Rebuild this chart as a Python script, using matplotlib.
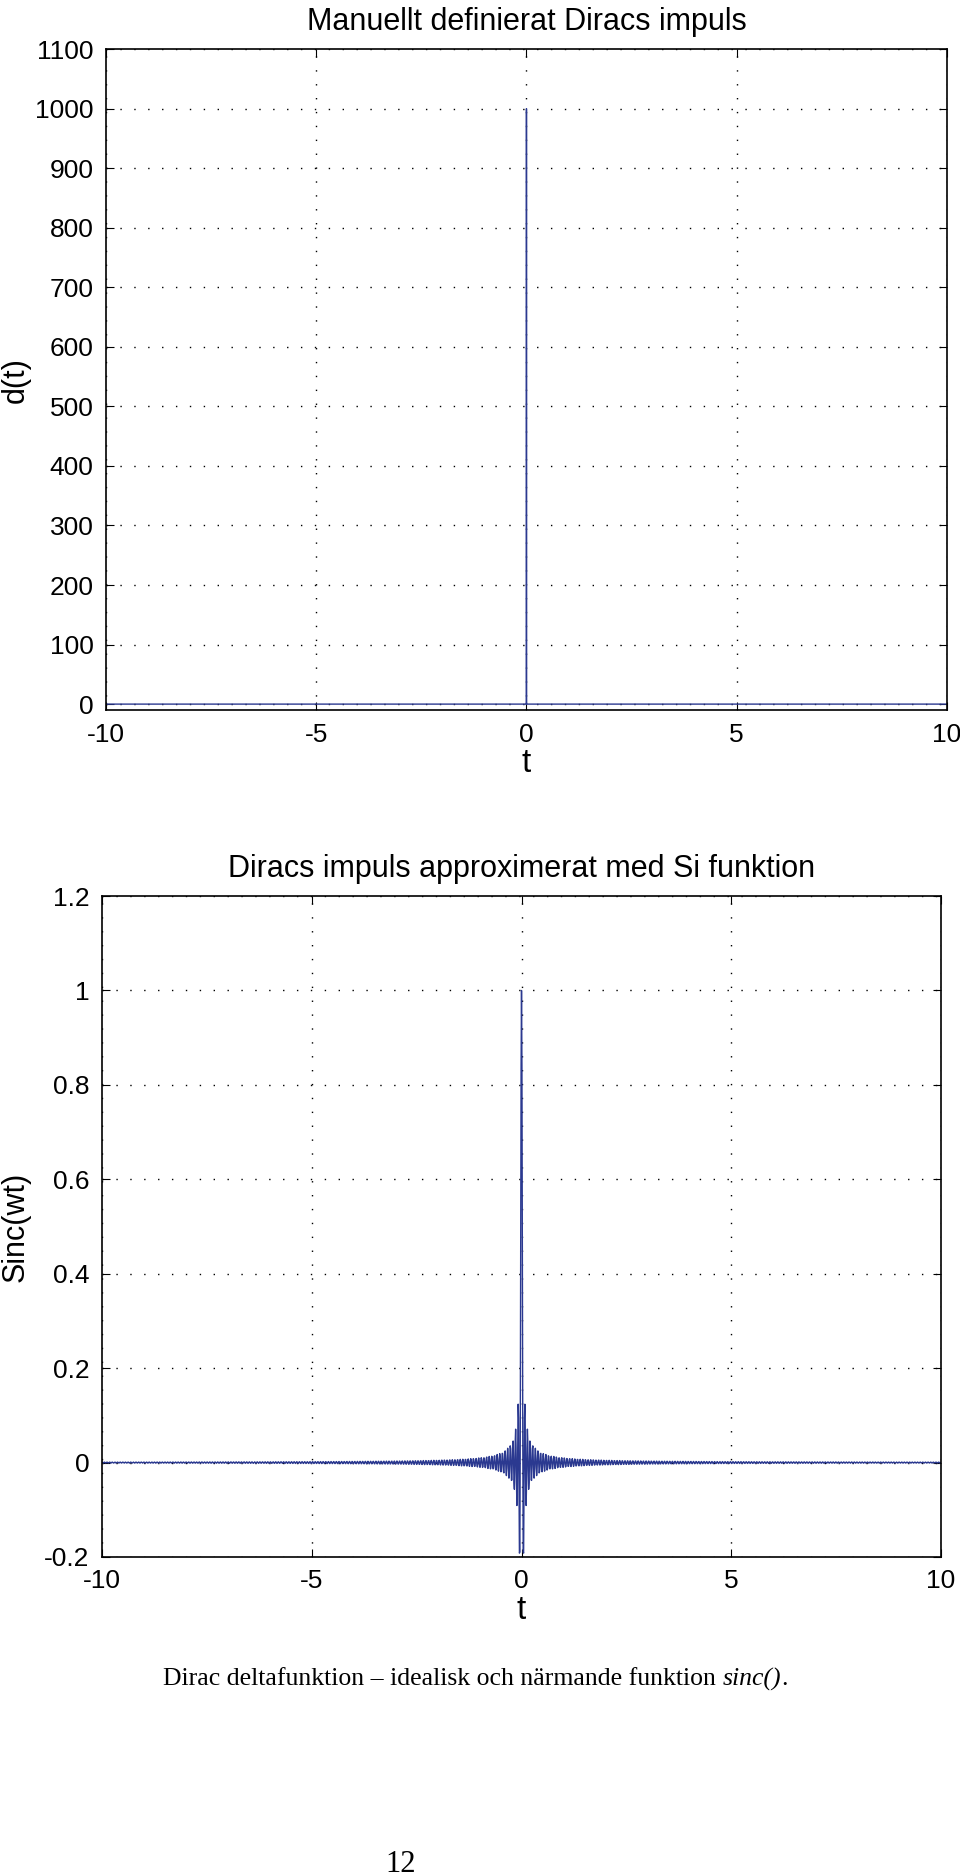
import numpy as np
import matplotlib.pyplot as plt
from matplotlib.ticker import FixedLocator

# top: manually defined Dirac impulse (dt = 0.001 -> height 1000)
dirac_t = [-10, -0.001, 0, 0.001, 10]
dirac_d = [0, 0, 1000, 0, 0]

# bottom: sinc approximation, sin(w t)/(w t) sampled every 0.01
omega = 100
t_step = 0.01
t_sinc = np.arange(-1000, 1001) * t_step
sinc_y = np.sinc(omega * t_sinc / np.pi)

x_ticks = [-10, -5, 0, 5, 10]
y_ticks_top = list(range(0, 1101, 100))
y_ticks_bot = [-0.2, 0, 0.2, 0.4, 0.6, 0.8, 1, 1.2]
y_labels_bot = ['-0.2', '0', '0.2', '0.4', '0.6', '0.8', '1', '1.2']

sans = ['Liberation Sans', 'DejaVu Sans']
serif = ['Liberation Serif', 'DejaVu Serif']
line_col = '#2b3990'

plt.rcParams['font.family'] = sans

fig = plt.figure(figsize=(9.6, 18.75), dpi=100)
ax1 = fig.add_axes([0.1104, 0.6213, 0.876, 0.3525])
ax2 = fig.add_axes([0.10625, 0.1696, 0.874, 0.3525])


def style(ax):
    ax.set_xlim(-10, 10)
    ax.xaxis.set_major_locator(FixedLocator(x_ticks))
    ax.set_xticklabels([str(v) for v in x_ticks])
    ax.grid(True, color='black', linestyle=(0, (1, 9)), linewidth=1.0)
    ax.tick_params(direction='in', length=6, width=0.8, top=True, right=True,
                   labelsize=19, pad=9)
    for s in ax.spines.values():
        s.set_linewidth(1.2)
    ax.set_xlabel('t', fontsize=24, labelpad=1)


ax1.plot(dirac_t, dirac_d, color=line_col, linewidth=1.0)
ax1.set_ylim(-10, 1100)
ax1.yaxis.set_major_locator(FixedLocator(y_ticks_top))
ax1.set_yticklabels([str(v) for v in y_ticks_top])
style(ax1)
ax1.set_title('Manuellt definierat Diracs impuls', fontsize=22, pad=14)
ax1.set_ylabel('d(t)', fontsize=22)
ax1.yaxis.set_label_coords(-0.089, 0.5)

ax2.plot(t_sinc, sinc_y, color=line_col, linewidth=1.0)
ax2.set_ylim(-0.2, 1.2)
ax2.yaxis.set_major_locator(FixedLocator(y_ticks_bot))
ax2.set_yticklabels(y_labels_bot)
style(ax2)
ax2.set_title('Diracs impuls approximerat med Si funktion', fontsize=22, pad=14)
ax2.set_ylabel('Sinc(wt)', fontsize=22)
ax2.yaxis.set_label_coords(-0.0846, 0.5)

# caption: regular part followed by italic sinc()
cap_y = 1 - 1679 / 1875
cap_size = 18.5
t1 = fig.text(163 / 960, cap_y, 'Dirac deltafunktion \u2013 idealisk och n\u00e4rmande funktion ',
              family=serif, fontsize=cap_size, va='center', ha='left')
fig.canvas.draw()
bb = t1.get_window_extent()
t2 = fig.text(bb.x1 / fig.bbox.width, cap_y, 'sinc()', family=serif, style='italic',
              fontsize=cap_size, va='center', ha='left')
fig.canvas.draw()
bb2 = t2.get_window_extent()
fig.text(bb2.x1 / fig.bbox.width, cap_y, '.', family=serif, fontsize=cap_size,
         va='center', ha='left')

fig.text(401 / 960, 1 - 1864 / 1875, '12', family=serif, fontsize=22,
         va='center', ha='center')

fig.savefig('out.png', dpi=100)
